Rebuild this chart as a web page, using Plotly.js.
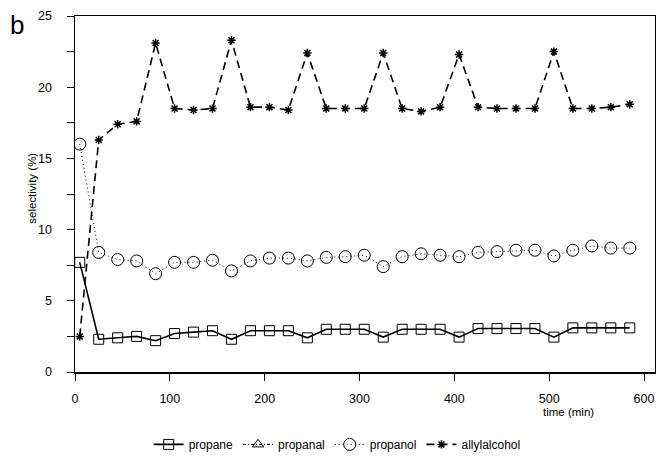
<!DOCTYPE html>
<html>
<head>
<meta charset="utf-8">
<script src="https://cdn.plot.ly/plotly-3.0.1.min.js"></script>
<style>html,body{margin:0;padding:0;background:#fff;}#chart{width:656px;height:459px;}</style>
</head>
<body>
<div id="chart"></div>
<script>
// time (min)
const time = [5, 25, 45, 65, 85, 105, 125, 145, 165, 185, 205, 225, 245, 265, 285,
              305, 325, 345, 365, 385, 405, 425, 445, 465, 485, 505, 525, 545, 565, 585];
// selectivity (%)
const propane = [7.7, 2.3, 2.4, 2.5, 2.2, 2.7, 2.8, 2.9, 2.3, 2.9, 2.9, 2.9, 2.4, 3.0, 3.0,
                 3.0, 2.45, 3.0, 3.0, 3.0, 2.45, 3.05, 3.05, 3.05, 3.05, 2.45, 3.1, 3.1, 3.1, 3.1];
// propanal: listed in the legend, no points visible in the plot
const propanal = [null];
const propanol = [16.0, 8.4, 7.9, 7.8, 6.9, 7.7, 7.7, 7.85, 7.1, 7.8, 8.0, 8.0, 7.8, 8.05, 8.1,
                  8.2, 7.4, 8.1, 8.3, 8.2, 8.1, 8.4, 8.45, 8.55, 8.55, 8.15, 8.55, 8.85, 8.7, 8.7];
const allylalcohol = [2.5, 16.3, 17.4, 17.6, 23.1, 18.5, 18.4, 18.5, 23.3, 18.6, 18.6, 18.4, 22.4, 18.5, 18.5,
                      18.5, 22.4, 18.5, 18.3, 18.6, 22.3, 18.6, 18.5, 18.5, 18.5, 22.5, 18.5, 18.5, 18.6, 18.8];
const seriesNames = ["propane", "propanal", "propanol", "allylalcohol"];

const FONT = "Liberation Sans, Arial, sans-serif";
const traces = [
  {x: time, y: propane, name: seriesNames[0], mode: "lines+markers",
   line: {color: "#000", width: 1.6},
   marker: {symbol: "square-open", size: 10, color: "#000", line: {width: 1}}},
  {x: time.slice(0, propanal.length), y: propanal, name: seriesNames[1], mode: "lines+markers",
   line: {color: "#000", width: 1, dash: "3px,2px,1px,2px"},
   marker: {symbol: "triangle-up-open", size: 10, color: "#000", line: {width: 1}}},
  {x: time, y: propanol, name: seriesNames[2], mode: "lines+markers",
   line: {color: "#000", width: 1, dash: "1px,3px"},
   marker: {symbol: "circle-open", size: 12, color: "#000", line: {width: 1}}},
  {x: time, y: allylalcohol, name: seriesNames[3], mode: "lines+markers",
   line: {color: "#000", width: 1.6, dash: "8px,5px"},
   marker: {symbol: "asterisk-open", size: 7, color: "#000", line: {width: 1.5, color: "#000"}}}
];

const layout = {
  width: 656, height: 459,
  margin: {l: 75, r: 1, t: 16, b: 86},
  paper_bgcolor: "#fff", plot_bgcolor: "#fff",
  font: {family: FONT, size: 12, color: "#000"},
  showlegend: true,
  legend: {orientation: "h", x: 0.452, xanchor: "center", y: -0.2, yanchor: "middle",
           font: {family: FONT, size: 12, color: "#000"}, bgcolor: "rgba(0,0,0,0)",
           itemwidth: 30, tracegroupgap: 0},
  xaxis: {range: [0, 611.6], tickmode: "linear", tick0: 0, dtick: 100,
          ticks: "outside", ticklen: 7, tickwidth: 1, tickcolor: "#000",
          showline: true, linecolor: "#000", linewidth: 1.5, mirror: true,
          showgrid: false, zeroline: false, ticklabelstandoff: 7,
          tickfont: {family: FONT, size: 12.5, color: "#000"}},
  yaxis: {range: [0, 25], tickmode: "linear", tick0: 0, dtick: 5,
          ticks: "outside", ticklen: 7, tickwidth: 1, tickcolor: "#000",
          minor: {dtick: 2.5, ticks: "outside", ticklen: 7, tickwidth: 1, tickcolor: "#000", showgrid: false},
          showline: true, linecolor: "#000", linewidth: 1.5, mirror: true,
          showgrid: false, zeroline: false, ticklabelstandoff: 12,
          tickfont: {family: FONT, size: 12.5, color: "#000"}},
  annotations: [
    {text: "b", xref: "paper", yref: "paper", x: -0.100, y: 0.975, xanchor: "center", yanchor: "middle",
     showarrow: false, font: {family: FONT, size: 26, color: "#000"}},
    {text: "selectivity (%)", xref: "paper", yref: "paper", x: -0.074, y: 0.515, xanchor: "center", yanchor: "middle",
     textangle: -90, showarrow: false, font: {family: FONT, size: 11.5, color: "#000"}},
    {text: "time (min)", xref: "paper", yref: "paper", x: 0.85, y: -0.112, xanchor: "center", yanchor: "middle",
     showarrow: false, font: {family: FONT, size: 11.5, color: "#000"}}
  ]
};

Plotly.newPlot("chart", traces, layout, {displayModeBar: false, staticPlot: true});
</script>
</body>
</html>
